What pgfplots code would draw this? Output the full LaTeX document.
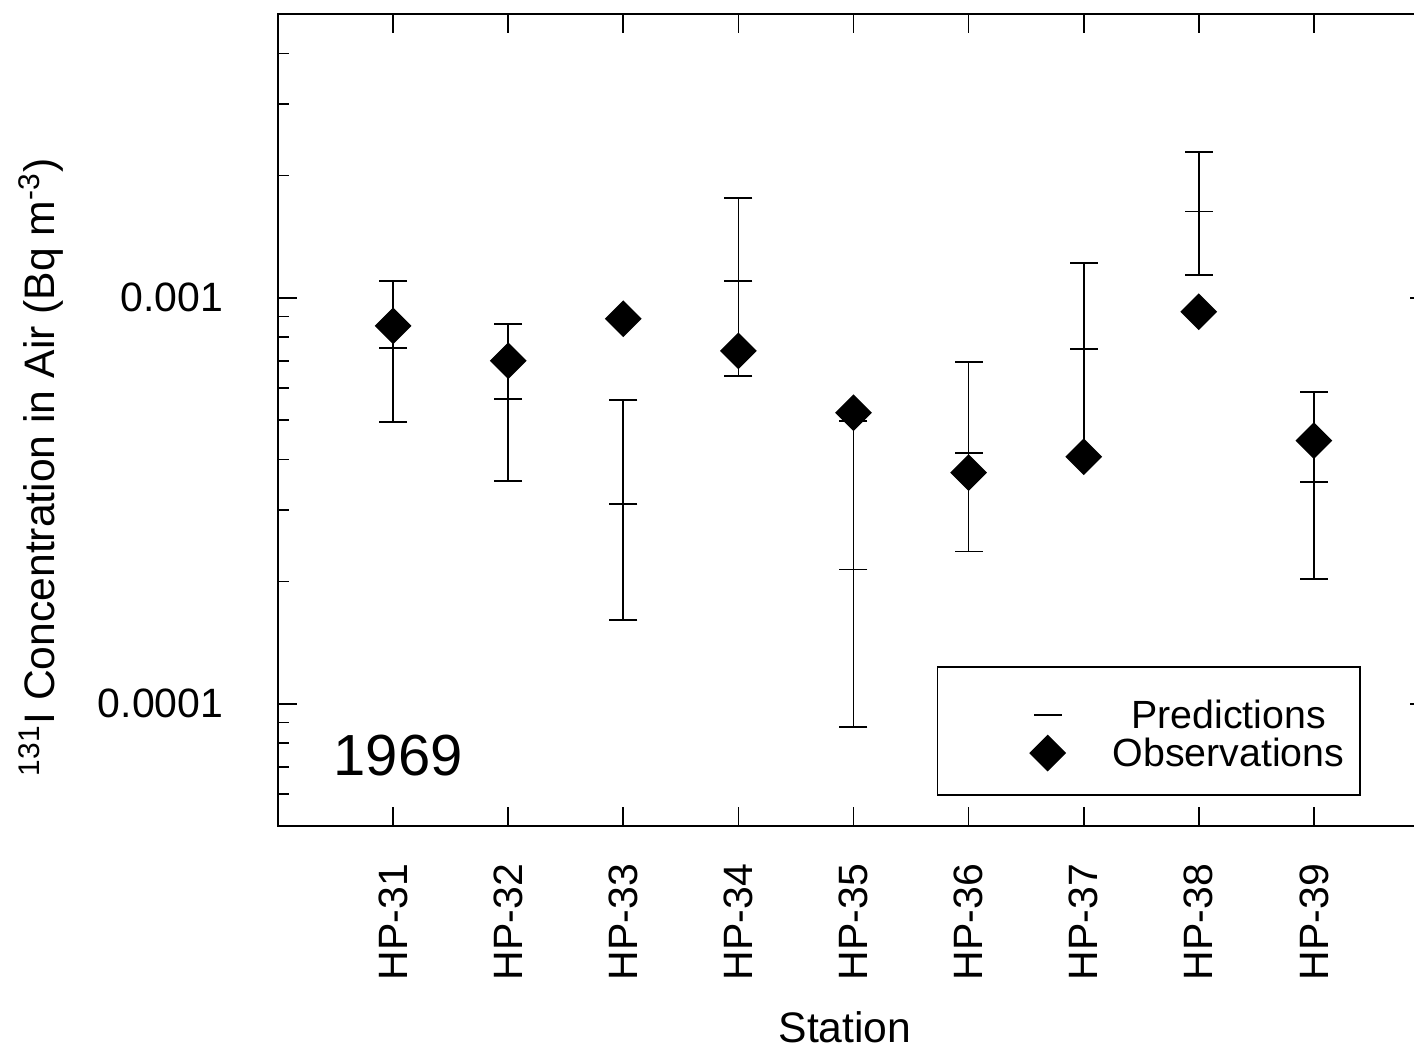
\documentclass[border=0pt]{standalone}
\usepackage{fontspec}
\setmainfont{Liberation Sans}
\usepackage{pgfplots}
\pgfplotsset{compat=1.18}
\newcommand{\tickfont}{\fontsize{12.3pt}{14pt}\selectfont}
\newcommand{\lblfont}{\fontsize{12.8pt}{15pt}\selectfont}
\begin{document}
\begin{tikzpicture}
\begin{axis}[
  at={(0,0)}, anchor=south west,
  scale only axis, width=345.3pt, height=243.6pt,
  xmin=0, xmax=10,
  ymode=log, ymin=5e-5, ymax=5e-3,
  xtick={1,2,3,4,5,6,7,8,9},
  xticklabels={HP-31,HP-32,HP-33,HP-34,HP-35,HP-36,HP-37,HP-38,HP-39},
  ytick={1e-4,1e-3}, yticklabels={0.0001,0.001},
  minor ytick={6e-5,7e-5,8e-5,9e-5,2e-4,3e-4,4e-4,5e-4,6e-4,7e-4,8e-4,9e-4,2e-3,3e-3,4e-3},
  ytick pos=left,
  tick align=inside,
  major tick length=5.7pt, minor tick length=3.3pt,
  tick style={black, line width=0.5pt},
  axis line style={black, line width=0.6pt},
  ticklabel style={font=\tickfont},
  xticklabel style={rotate=90, anchor=east},
  xticklabel shift=7.8pt,
  yticklabel shift=12.9pt,
  xlabel={Station},
  ylabel={\textsuperscript{131}I Concentration in Air (Bq m\textsuperscript{-3})},
  label style={font=\lblfont},
  xlabel style={at={(axis description cs:0.4926,-0.2672)}, anchor=base, inner sep=0pt},
  ylabel style={at={(axis description cs:-0.206,0.442)}, anchor=center, rotate=0},
  legend style={draw=none, fill=none, at={(rel axis cs:0.653,0.154)}, anchor=north west,
    inner sep=0pt, row sep=2.1pt, column sep=14.25pt,
    nodes={inner sep=0pt, text height=8.1pt, text depth=0pt, font=\fontsize{11.8pt}{13pt}\selectfont}},
  legend cell align=center,
]
% prediction ranges (low to high) for each station
\addplot[black, line width=0.5pt, unbounded coords=jump, forget plot] coordinates {
  (1,0.000495) (1,0.001101) (1,nan)
  (2,0.000354) (2,0.000863) (2,nan)
  (3,0.000161) (3,0.000561) (3,nan)
  (4,0.000642) (4,0.001762) (4,nan)
  (5,0.0000877) (5,0.000498) (5,nan)
  (6,0.000237) (6,0.000695) (6,nan)
  (7,0.000406) (7,0.001220) (7,nan)
  (8,0.001140) (8,0.002290) (8,nan)
  (9,0.000203) (9,0.000587)
};
% prediction low / central / high values
\addplot[black, line width=0.5pt, only marks, mark=-, mark size=4.2pt] coordinates {
  (1,0.000495) (1,0.000753) (1,0.001101)
  (2,0.000354) (2,0.000563) (2,0.000863)
  (3,0.000161) (3,0.000311) (3,0.000561)
  (4,0.000642) (4,0.001100) (4,0.001762)
  (5,0.0000877) (5,0.000214) (5,0.000498)
  (6,0.000237) (6,0.000415) (6,0.000695)
  (7,0.000406) (7,0.000748) (7,0.001220)
  (8,0.001140) (8,0.001630) (8,0.002290)
  (9,0.000203) (9,0.000352) (9,0.000587)
};
\addlegendentry{Predictions}
\addplot[only marks, mark=square*, mark size=3.7pt, mark options={rotate=45, fill=black, draw=black}] coordinates {
  (1,0.000853) (2,0.000700) (3,0.000888) (4,0.000740) (5,0.000521)
  (6,0.000371) (7,0.000406) (8,0.000924) (9,0.000445)
};
\addlegendentry{Observations}
\draw[black, line width=0.5pt] (rel axis cs:0.573,0.038) rectangle (rel axis cs:0.940,0.196);
\draw[black, line width=0.5pt] (axis cs:10,1e-3) -- ++(-5.7pt,0pt);
\draw[black, line width=0.5pt] (axis cs:10,1e-4) -- ++(-5.7pt,0pt);
\node[anchor=base west, inner sep=0pt, font=\fontsize{17.4pt}{20pt}\selectfont] at (rel axis cs:0.0478,0.0628) {1969};
\end{axis}
\pgfresetboundingbox
\path (-83.4pt,-66.6pt) rectangle (340.8pt,247.8pt);
\end{tikzpicture}
\end{document}
